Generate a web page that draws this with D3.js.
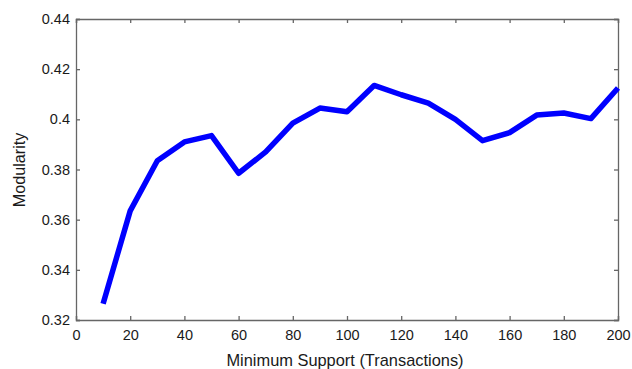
<!DOCTYPE html>
<html><head><meta charset="utf-8">
<script src="https://cdn.jsdelivr.net/npm/d3@7"></script>
<style>body{margin:0;background:#fff}svg{display:block}</style>
</head><body>
<svg id="c" width="632" height="369"></svg>
<script>
const xValues = [10,20,30,40,50,60,70,80,90,100,110,120,130,140,150,160,170,180,190,200];
const modularity = [0.3265,0.3635,0.3835,0.391,0.3935,0.3785,0.387,0.3985,0.4045,0.403,0.4135,0.4098,0.4065,0.4,0.3915,0.3947,0.4017,0.4025,0.4003,0.4125];
const xTicks = [0,20,40,60,80,100,120,140,160,180,200];
const yTicks = [0.32,0.34,0.36,0.38,0.4,0.42,0.44];
const xLabel = "Minimum Support (Transactions)";
const yLabel = "Modularity";

const m = {left:76, right:618, top:19, bottom:320};
const svg = d3.select("#c");
const x = d3.scaleLinear().domain([0,200]).range([m.left,m.right]);
const y = d3.scaleLinear().domain([0.32,0.44]).range([m.bottom,m.top]);
const font = "'Liberation Sans', Arial, Helvetica, sans-serif";
const axisColor = "#666";

const gx = svg.append("g").attr("transform",`translate(0,${m.bottom})`)
  .call(d3.axisBottom(x).tickValues(xTicks).tickSize(-4).tickPadding(10).tickFormat(d3.format("d")));
const gy = svg.append("g").attr("transform",`translate(${m.left},0)`)
  .call(d3.axisLeft(y).tickValues(yTicks).tickSize(-4).tickPadding(6).tickFormat(d=> d===0.4 ? "0.4" : d3.format(".2f")(d)));
const gt = svg.append("g").attr("transform",`translate(0,${m.top})`)
  .call(d3.axisTop(x).tickValues(xTicks).tickSize(-4).tickFormat(""));
const gr = svg.append("g").attr("transform",`translate(${m.right},0)`)
  .call(d3.axisRight(y).tickValues(yTicks).tickSize(-4).tickFormat(""));

[gx,gy,gt,gr].forEach(g=>{
  g.selectAll(".domain").attr("stroke",axisColor).attr("stroke-width",1.3);
  g.selectAll(".tick line").attr("stroke",axisColor).attr("stroke-width",1.3);
  g.selectAll(".tick text").attr("font-family",font).attr("font-size",14.5).attr("fill","#1a1a1a");
});

svg.append("path")
  .datum(xValues.map((v,i)=>[v,modularity[i]]))
  .attr("fill","none").attr("stroke","#0000ff").attr("stroke-width",5.5)
  .attr("stroke-linejoin","round").attr("stroke-linecap","butt")
  .attr("d", d3.line().x(d=>x(d[0])).y(d=>y(d[1])));

svg.append("text").attr("x",345).attr("y",366)
  .attr("text-anchor","middle").attr("font-family",font).attr("font-size",16.4).attr("fill","#1a1a1a")
  .text(xLabel);
svg.append("text").attr("transform",`translate(25,170) rotate(-90)`)
  .attr("text-anchor","middle").attr("font-family",font).attr("font-size",16.2).attr("fill","#1a1a1a")
  .text(yLabel);
</script>
</body></html>
